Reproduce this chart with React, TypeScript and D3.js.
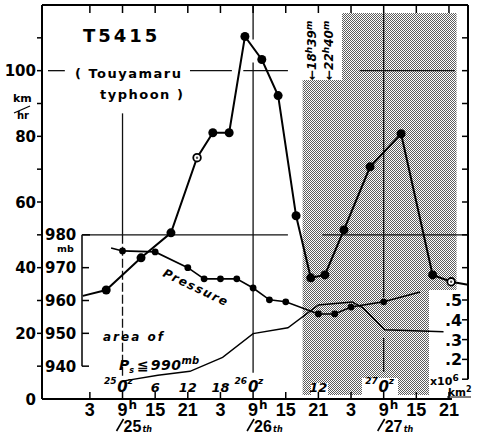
import * as d3 from "d3";

// time axis: hours counted from 25th 00h (JST)
const jstTicks = [3, 9, 15, 21, 27, 33, 39, 45, 51, 57, 63, 69];
const jstLabels = ["3", "9", "15", "21", "3", "9", "15", "21", "3", "9", "15", "21"];
const dayTicks = [9, 33, 57];
const dayNames = ["25", "26", "27"];
const gmtTicks = [9, 15, 21, 27, 33, 45, 57];
const gmtLabels = ["0", "6", "12", "18", "0", "12", "0"];
const gmtDays = ["25", "", "", "", "26", "", "27"];

// maximum wind speed (km/hr)
const speedTime = [1.7, 6, 12.4, 17.9, 22.7, 25.6, 28.6, 31.5, 34.6, 37.6, 40.9, 43.6, 46.2, 49.7, 54.5, 60.2, 66, 69.4, 72.5];
const speedKmh = [31.4, 33.2, 43, 50.6, 73.5, 81.1, 81.1, 110.4, 103.4, 92.4, 55.8, 36.9, 37.8, 51.5, 70.7, 80.8, 37.8, 35.7, 34.8];

// central pressure (mb)
const pressTime = [6.9, 9, 15, 21, 24, 27, 30, 33, 36, 39, 45, 48, 51, 57, 63.7];
const pressMb = [976, 975.1, 974.8, 970, 966.6, 966.6, 966.6, 963.8, 960.2, 959.6, 955.9, 955.9, 958, 959.6, 962.6];

// area of Ps <= 990 mb (x10^6 km2)
const areaTime = [9, 15.5, 21.4, 27.4, 33, 39.4, 45, 51.2, 53.2, 57.2, 68];
const areaMkm2 = [0.09, 0.12, 0.14, 0.21, 0.33, 0.36, 0.475, 0.49, 0.46, 0.35, 0.34];

const speedLabels = [0, 20, 40, 60, 80, 100];
const pressLabels = [980, 970, 960, 950, 940];
const areaTicks = [0.1, 0.2, 0.3, 0.4, 0.5];
const areaLabels = [0.2, 0.3, 0.4, 0.5];

// shaded period (26th 18h39m .. 27th 22h40m)
const shadeStart = 42.1;
const shadeEnd = 70.4;

const W = 477;
const H = 434;
const font = "'DejaVu Sans', sans-serif";
const numFont = "'Liberation Sans', Arial, sans-serif";

export default function App() {
  const x = d3.scaleLinear().domain([-5.8, 72.5]).range([42, 468]);
  const y = d3.scaleLinear().domain([0, 120]).range([399, 5]);
  const yP = d3.scaleLinear().domain([930, 1050]).range([399, 5]);
  const yA = d3.scaleLinear().domain([0, 0.5]).range([399, 300]);

  const speedLine = d3
    .line<number>()
    .x((_, i) => x(speedTime[i]))
    .y((d) => y(d))(speedKmh);
  const pressLine = d3
    .line<number>()
    .x((_, i) => x(pressTime[i]))
    .y((d) => yP(d))(pressMb);
  const areaLine = d3
    .line<number>()
    .x((_, i) => x(areaTime[i]))
    .y((d) => yA(d))(areaMkm2);

  const hollow = [4, 17];

  // reference cross lines, broken where text or data sits
  const hRefs = [
    { v: 100, from: -4.7, to: -1.6 },
    { v: 100, from: 21.4, to: 29.1 },
    { v: 100, from: 31.2, to: 39.4 },
    { v: 100, from: 52.6, to: 70.1 },
    { v: 50, from: 1.74, to: 39.4 },
    { v: 50, from: 45.7, to: 72.5 },
  ];
  const vRefs = [
    { t: 9, top: 87, bot: 50, dash: "" },
    { t: 9, top: 50, bot: 7, dash: "9 3" },
    { t: 33, top: 120, bot: 109.5, dash: "" },
    { t: 33, top: 102.5, bot: 8, dash: "" },
    { t: 57, top: 117.7, bot: 31, dash: "" },
    { t: 57, top: 18.6, bot: 8.2, dash: "" },
  ];

  const x0 = x(shadeStart);
  const x1 = x(shadeEnd);

  return (
    <svg width={W} height={H} style={{ position: "absolute", left: 0, top: 0 }} fontFamily={font}>
      <defs>
        <pattern id="dots" width="2" height="2" patternUnits="userSpaceOnUse">
          <rect width="2" height="2" fill="#fff" />
          <rect width="1" height="1" fill="#5e5e5e" />
          <rect x="1" y="1" width="1" height="1" fill="#5e5e5e" />
        </pattern>
      </defs>
      <rect width={W} height={H} fill="#fff" />

      {/* shaded period */}
      <rect x={x0} y={13} width={x1 - x0} height={382} fill="url(#dots)" />
      <rect x={x0 - 1} y={12} width={342 - x0 + 1} height={68} fill="#fff" />
      <rect x={429} y={290} width={x1 - 429 + 1} height={106} fill="#fff" />
      <rect x={362} y={378} width={36} height={18} fill="#fff" />
      <rect x={311} y={383} width={17} height={13} fill="#fff" />

      {/* reference lines */}
      {hRefs.map((r, i) => (
        <line key={"h" + i} x1={x(r.from)} x2={x(r.to)} y1={y(r.v)} y2={y(r.v)} stroke="#111" strokeWidth={1.3} />
      ))}
      {vRefs.map((r, i) => (
        <line
          key={"v" + i}
          x1={x(r.t)}
          x2={x(r.t)}
          y1={y(r.top)}
          y2={y(r.bot)}
          stroke="#111"
          strokeWidth={1.3}
          strokeDasharray={r.dash || undefined}
        />
      ))}

      {/* frame */}
      <line x1={42} x2={42} y1={5} y2={399} stroke="#000" strokeWidth={2} />
      <line x1={42} x2={x(69) + 3} y1={399} y2={399} stroke="#000" strokeWidth={2} />
      <line x1={42} x2={468} y1={5} y2={5} stroke="#000" strokeWidth={2} />
      <line x1={468} x2={468} y1={5} y2={yA(0.1)} stroke="#000" strokeWidth={2} />

      {/* time ticks */}
      {jstTicks.map((t) => (
        <g key={"jt" + t}>
          <line x1={x(t)} x2={x(t)} y1={392} y2={399} stroke="#000" strokeWidth={1.5} />
          <line x1={x(t)} x2={x(t)} y1={5} y2={13} stroke="#000" strokeWidth={1.5} />
        </g>
      ))}

      {/* speed axis */}
      {d3.range(10, 120, 10).map((v) => (
        <line key={"lt" + v} x1={37} x2={42} y1={y(v)} y2={y(v)} stroke="#000" strokeWidth={1.5} />
      ))}
      {d3.range(40, 120, 10).map((v) => (
        <line key={"rt" + v} x1={462} x2={468} y1={y(v)} y2={y(v)} stroke="#000" strokeWidth={1.5} />
      ))}
      {areaTicks.map((a) => (
        <line key={"at" + a} x1={462} x2={468} y1={yA(a)} y2={yA(a)} stroke="#000" strokeWidth={1.5} />
      ))}
      {speedLabels.map((v) => (
        <text key={"sl" + v} x={36} y={y(v) + 5.5} textAnchor="end" fontSize={15} fontWeight="bold">
          {v}
        </text>
      ))}
      <text x={13} y={102} fontSize={11} fontWeight="bold">km</text>
      <line x1={14} x2={30} y1={113} y2={106} stroke="#000" strokeWidth={1.3} />
      <text x={17} y={119} fontSize={10} fontWeight="bold">hr</text>

      {/* pressure axis */}
      <line x1={82} x2={82} y1={yP(980)} y2={yP(940)} stroke="#000" strokeWidth={1.5} />
      {pressLabels.map((p) => (
        <g key={"pl" + p}>
          <line x1={82} x2={p === 980 ? 90 : 89} y1={yP(p)} y2={yP(p)} stroke="#000" strokeWidth={1.5} />
          <text x={45} y={yP(p) + 5.5} fontSize={15} fontWeight="bold">
            {p}
          </text>
        </g>
      ))}
      <text x={57} y={252} fontSize={9.5} fontWeight="bold">mb</text>

      {/* area axis labels */}
      {areaLabels.map((a) => (
        <text key={"al" + a} x={445} y={yA(a) + 6} fontSize={16} fontWeight="bold">
          {"." + Math.round(a * 10)}
        </text>
      ))}
      <text x={430} y={385} fontSize={11} fontWeight="bold">
        x10<tspan dy={-4} fontSize={9}>6</tspan>
      </text>
      <text x={448} y={396} fontSize={10.5} fontWeight="bold">
        km<tspan dy={-4} fontSize={8}>2</tspan>
      </text>
      <line x1={447} x2={471} y1={397} y2={397} stroke="#000" strokeWidth={1} />

      {/* GMT labels */}
      {gmtTicks.map((t, i) => (
        <g key={"gm" + t}>
          {gmtDays[i] && (
            <text x={x(t) - 6} y={384} textAnchor="end" fontSize={9} fontWeight="bold" fontStyle="italic">
              {gmtDays[i]}
            </text>
          )}
          <text x={x(t)} y={392} textAnchor="middle" fontSize={gmtDays[i] ? 15 : 13} fontWeight="bold" fontStyle="italic">
            {gmtLabels[i]}
          </text>
          {gmtDays[i] && (
            <text x={x(t) + 5} y={384} fontSize={9} fontWeight="bold" fontStyle="italic">
              z
            </text>
          )}
        </g>
      ))}

      {/* JST labels */}
      {jstTicks.map((t, i) => (
        <text key={"jl" + t} x={x(t)} y={416} textAnchor="middle" fontSize={18} fontWeight="bold" fontFamily={numFont}>
          {jstLabels[i]}
        </text>
      ))}
      {dayTicks.map((t, i) => (
        <g key={"dl" + t}>
          <text x={x(t) + 6} y={409} fontSize={12} fontWeight="bold">h</text>
          <line x1={x(t) - 6} x2={x(t) + 1} y1={431} y2={419} stroke="#000" strokeWidth={1.6} />
          <text x={x(t) + 1} y={432} fontSize={16} fontWeight="bold" fontFamily={numFont}>
            {dayNames[i]}
          </text>
          <text x={x(t) + 20} y={432} fontSize={8} fontWeight="bold" fontStyle="italic">th</text>
        </g>
      ))}

      {/* data lines */}
      <path d={areaLine ?? ""} fill="none" stroke="#000" strokeWidth={1.4} />
      <path d={pressLine ?? ""} fill="none" stroke="#000" strokeWidth={1.6} />
      <path d={speedLine ?? ""} fill="none" stroke="#000" strokeWidth={2} />

      {pressMb.map((p, i) =>
        i === 0 || i === pressMb.length - 1 ? null : (
          <circle key={"pm" + i} cx={x(pressTime[i])} cy={yP(p)} r={3.4} fill="#000" />
        )
      )}
      {speedKmh.map((v, i) => {
        if (i === 0 || i === speedKmh.length - 1) return null;
        if (hollow.includes(i))
          return (
            <g key={"sm" + i}>
              <circle cx={x(speedTime[i])} cy={y(v)} r={3.8} fill="#fff" stroke="#000" strokeWidth={1.8} />
              <circle cx={x(speedTime[i])} cy={y(v)} r={1.2} fill="#555" />
            </g>
          );
        return <circle key={"sm" + i} cx={x(speedTime[i])} cy={y(v)} r={4.5} fill="#000" />;
      })}

      {/* titles and notes */}
      <text x={83} y={42} fontSize={18} fontWeight="bold" letterSpacing={3}>
        T5415
      </text>
      <text x={75} y={78} fontSize={13} fontWeight="bold" letterSpacing={1.5}>
        ( Touyamaru
      </text>
      <text x={100} y={99} fontSize={13} fontWeight="bold" letterSpacing={1.5}>
        typhoon )
      </text>
      <text transform="translate(162,276) rotate(25.5)" fontSize={12} fontWeight="bold" fontStyle="italic" letterSpacing={1.5}>
        Pressure
      </text>
      <text x={103} y={341} fontSize={12} fontWeight="bold" fontStyle="italic" letterSpacing={2}>
        area of
      </text>
      <text x={119} y={370} fontSize={14} fontStyle="italic" fontWeight="bold">
        P<tspan dy={3} fontSize={8}>s</tspan>
        <tspan dy={-3} dx={3}>≦</tspan>
        <tspan dx={2} letterSpacing={0.5}>990</tspan>
        <tspan dy={-6} fontSize={10}>mb</tspan>
      </text>
      <text transform="translate(316,80) rotate(-90)" fontSize={12} fontWeight="bold" fontStyle="italic">
        ←18<tspan dy={-4} fontSize={9}>h</tspan>
        <tspan dy={4}>39</tspan>
        <tspan dy={-4} fontSize={9}>m</tspan>
      </text>
      <text transform="translate(333,80) rotate(-90)" fontSize={12} fontWeight="bold" fontStyle="italic">
        ←22<tspan dy={-4} fontSize={9}>h</tspan>
        <tspan dy={4}>40</tspan>
        <tspan dy={-4} fontSize={9}>m</tspan>
      </text>
    </svg>
  );
}
